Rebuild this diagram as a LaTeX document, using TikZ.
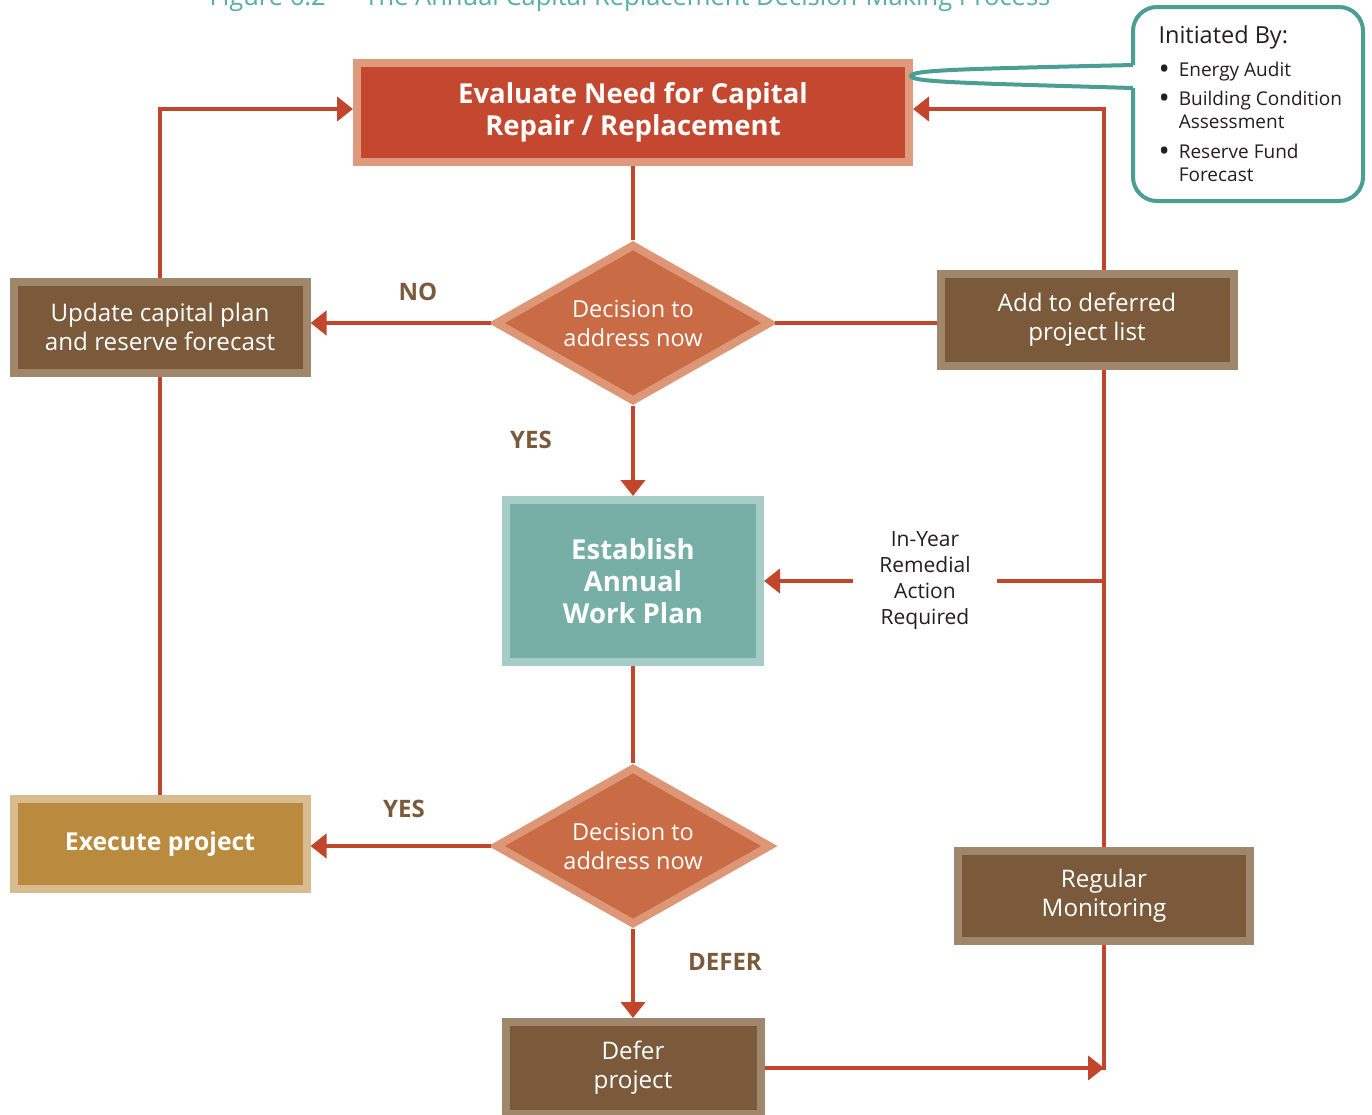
\documentclass[tikz,border=0pt]{standalone}
\usepackage{fontspec}
\setmainfont{Open Sans}
\usetikzlibrary{arrows.meta, positioning, shapes.geometric, calc}
\definecolor{cline}{HTML}{C1462B}
\definecolor{cred}{HTML}{C3482F}
\definecolor{credl}{HTML}{DF9A7E}
\definecolor{corange}{HTML}{C96B44}
\definecolor{corangel}{HTML}{DD9676}
\definecolor{cbrown}{HTML}{7A5A3A}
\definecolor{cbrownl}{HTML}{A0866A}
\definecolor{cteal}{HTML}{77AFA6}
\definecolor{ctealbd}{HTML}{A7CBC6}
\definecolor{cgold}{HTML}{BA8A3F}
\definecolor{cgoldl}{HTML}{D9BB90}
\definecolor{ccallout}{HTML}{4A9E94}
\definecolor{ctitle}{HTML}{55AFA5}
\definecolor{ctext}{HTML}{231F20}
\newcommand{\bigbullet}{\raisebox{-2.5pt}{\fontsize{30}{23}\selectfont\textbullet}}
\tikzset{
  box/.style={rectangle, line width=8pt, text=white, align=center, inner sep=0pt, font=\fontsize{24.2}{29}\selectfont},
  brownbox/.style={box, draw=cbrownl, fill=cbrown, minimum width=293pt, minimum height=91pt},
  boldbox/.style={box, font=\bfseries\fontsize{27.5}{32}\selectfont},
  decision/.style={diamond, aspect=1.75, draw=corangel, fill=corange, line width=8pt, text=white, align=center, inner sep=0pt, minimum width=276pt, minimum height=158pt, font=\fontsize{23.5}{29}\selectfont},
  link/.style={draw=cline, line width=4.5pt},
  arrow/.style={link, -{Triangle[length=16pt, width=24pt]}},
  answer/.style={font=\bfseries\fontsize{24}{28}\selectfont, text=cbrown},
  note/.style={font=\fontsize{21}{26}\selectfont, text=ctext, align=center},
  callout/.style={draw=ccallout, line width=4pt},
}
\begin{document}
\begin{tikzpicture}[x=1pt, y=-1pt]
  \fill[white] (0,0) rectangle (1372,1114);
  \useasboundingbox (0,0) rectangle (1372,1114);
  % title, cut off by the page
  \node[anchor=base, text=ctitle, font=\fontsize{25.5}{30}\selectfont] (title) at (630,5) {Figure 6.2 — The Annual Capital Replacement Decision-Making Process};
  % boxes
  \node[boldbox, draw=credl, fill=cred, minimum width=552pt, minimum height=99pt] (eval) at (633,112) {Evaluate Need for Capital\\Repair / Replacement};
  \node[decision] (dec1) at (633,323) {Decision to\\address now};
  \node[brownbox] (upd) at (160,327) {Update capital plan\\and reserve forecast};
  \node[brownbox, minimum height=92pt] (add) at (1087,320) {Add to deferred\\project list};
  \node[boldbox, draw=ctealbd, fill=cteal, minimum width=254pt, minimum height=162pt] (est) at (633,581) {Establish\\Annual\\Work Plan};
  \node[note, minimum width=144pt] (remedial) at (925,581) {In-Year\\Remedial\\Action\\Required};
  \node[decision] (dec2) at (633,846) {Decision to\\address now};
  \node[boldbox, draw=cgoldl, fill=cgold, minimum width=293pt, minimum height=90pt, font=\bfseries\fontsize{24.7}{29}\selectfont] (exec) at (160,844) {Execute project};
  \node[brownbox, minimum width=292pt, minimum height=90pt] (reg) at (1104,896) {Regular\\Monitoring};
  \node[brownbox, minimum width=255pt, minimum height=92pt] (defer) at (633,1068) {Defer\\project};
  % answers
  \node[answer] (no) at (418,292) {NO};
  \node[answer] (yes1) at (531,440) {YES};
  \node[answer] (yes2) at (404,809) {YES};
  \node[answer] (deferlbl) at (725,962) {DEFER};
  % callout
  \node[callout, rounded corners=24pt, minimum width=230pt, minimum height=194pt] (init) at (1248,104) {};
  \node[anchor=west, align=left, text=ctext, font=\fontsize{19}{23}\selectfont] (initlist) at ([xshift=24pt, yshift=-3pt]init.west) {%
    {\fontsize{23.5}{28}\selectfont Initiated By:}\\[11pt]
    \begin{tabular}{@{}l@{\hspace{9pt}}l@{}}
      \bigbullet & Energy Audit\\[6pt]
      \bigbullet & Building Condition\\
                 & Assessment\\[7pt]
      \bigbullet & Reserve Fund\\
                 & Forecast
    \end{tabular}};
  \coordinate (ptop) at (1133,65);
  \coordinate (pbot) at (1133,88);
  \coordinate (ptip) at ($(eval.east)+(-2,-36)$);
  \fill[white] ([xshift=-3pt]ptop) rectangle ([xshift=3pt]pbot);
  \draw[callout] (ptop) .. controls (960,69) and (912,70) .. (ptip) .. controls (912,82) and (960,83) .. (pbot);
  % connectors
  \draw[link] (eval) -- (dec1);
  \draw[arrow] (dec1) -- (upd.east |- dec1);
  \draw[link] (dec1) -- (dec1 -| add.west);
  \draw[arrow] (dec1) -- (est);
  \draw[arrow] (upd) |- ([yshift=3pt]eval.west);
  \draw[link] (upd) -- (exec);
  \draw[arrow] (add.north -| reg) |- ([yshift=3pt]eval.east);
  \draw[link] (add.south -| reg) -- (reg);
  \draw[link] (reg.north |- est) -- (remedial);
  \draw[arrow] (remedial) -- (est);
  \draw[link] (est) -- (dec2);
  \draw[arrow] (dec2) -- (dec2 -| exec.east);
  \draw[arrow] (dec2) -- (defer);
  \draw[link] (reg) -- ([yshift=-2pt]reg |- defer.east);
  \draw[arrow] (defer.east) -- (reg |- defer.east);
\end{tikzpicture}
\end{document}
